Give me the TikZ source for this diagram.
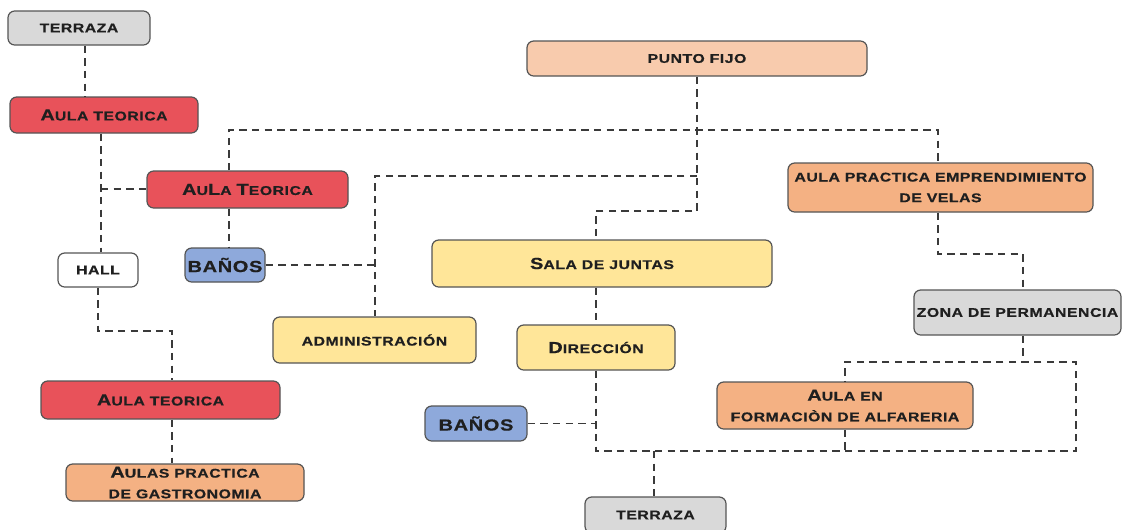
\documentclass[tikz,border=0pt]{standalone}
\usepackage{fontspec}
\newfontfamily\lbl[FakeStretch=1.25,LetterSpace=4,FakeBold=0.6]{Liberation Sans}
\definecolor{cred}{HTML}{E8525A}
\definecolor{cgray}{HTML}{D9D9D9}
\definecolor{cpeach}{HTML}{F8CBAD}
\definecolor{corange}{HTML}{F4B183}
\definecolor{cyellow}{HTML}{FFE699}
\definecolor{cblue}{HTML}{8EA9DB}
\definecolor{cborder}{HTML}{555555}
\definecolor{cline}{HTML}{3A3A3A}
\newcommand{\bg}[1]{{\fontsize{12}{13}\selectfont #1}}
\tikzset{
  box/.style={draw=cborder, line width=0.9pt, rounded corners=5pt, inner sep=0pt, align=center,
    font=\lbl\bfseries\fontsize{9.5}{15.5}\selectfont, text=black!88},
  sz/.style 2 args={minimum width=#1*0.75pt, minimum height=#2*0.75pt},
  conn/.style={draw=cline, line width=1pt, dash pattern=on 5.5pt off 4pt}
}
\begin{document}
\begin{tikzpicture}[x=0.75pt, y=-0.75pt]
\useasboundingbox (0,0) rectangle (1122,529);
\clip (0,0) rectangle (1122,529);
% nodes
\node[box, fill=cgray, sz={142}{34}] (t1) at (79,28) {TERRAZA};
\node[box, fill=cred, sz={188}{36}] (a1) at (104,115) {\bg{A}ULA TEORICA};
\node[box, fill=cred, sz={201}{37}] (a2) at (247.5,189.5) {\bg{A}U\bg{L}A \bg{T}EORICA};
\node[box, fill=white, sz={80}{34}] (hall) at (98,270) {HALL};
\node[box, fill=cblue, sz={80}{34}] (b1) at (225,265) {\bg{BAÑOS}};
\node[box, fill=cyellow, sz={203}{46}] (adm) at (374.5,340) {ADMINISTRACIÓN};
\node[box, fill=cpeach, sz={340}{35}] (pf) at (697,58.5) {PUNTO FIJO};
\node[box, fill=cyellow, sz={340}{47}] (sj) at (602,263.5) {\bg{S}ALA DE JUNTAS};
\node[box, fill=cyellow, sz={158}{45}] (dir) at (596,347.5) {\bg{D}IRECCIÓN};
\node[box, fill=cblue, sz={102}{35}] (b2) at (476,423.5) {\bg{BAÑOS}};
\node[box, fill=corange, sz={305}{49}] (vel) at (940.5,187.5) {AULA PRACTICA EMPRENDIMIENTO\\DE VELAS};
\node[box, fill=cgray, sz={207}{45}] (zona) at (1017.5,312.5) {ZONA DE PERMANENCIA};
\node[box, fill=corange, sz={256}{47}] (alf) at (845,405.5) {\bg{A}ULA EN\\FORMACIÒN DE ALFARERIA};
\node[box, fill=cred, sz={239}{38}] (a3) at (160.5,400) {\bg{A}ULA TEORICA};
\node[box, fill=corange, sz={238}{37}] (gas) at (185,482.5) {\bg{A}ULAS PRACTICA\\DE GASTRONOMIA};
\node[box, fill=cgray, sz={141}{36}] (t2) at (655.5,515) {TERRAZA};
% helper coordinates
\coordinate (xA) at (85,0);
\coordinate (xB) at (101,189);
\coordinate (xC) at (229,130);
\coordinate (xV) at (938,130);
\coordinate (xP) at (697,211);
\coordinate (xS) at (596,211);
\coordinate (xQ) at (697,176);
\coordinate (xR) at (375,176);
\coordinate (xH) at (98,331);
\coordinate (xK) at (172,331);
\coordinate (xD) at (596,451);
\coordinate (xE) at (1076,451);
\coordinate (xF) at (1076,362);
\coordinate (xG) at (845,362);
\coordinate (xZ) at (1023,362);
\coordinate (xT) at (654,451);
\coordinate (xW) at (938,254);
\coordinate (xY) at (1023,254);
% connectors
\draw[conn] (t1.south -| xA) -- (a1.north -| xA);
\draw[conn] (a1.south -| xB) -- (hall.north -| xB);
\draw[conn] (xB) -- (a2.west |- xB);
\draw[conn] (a2.north -| xC) -- (xC) -- (xV) -- (vel.north -| xV);
\draw[conn] (a2.south -| xC) -- (b1.north -| xC);
\draw[conn] (pf.south -| xP) -- (xP) -- (xS) -- (sj.north -| xS);
\draw[conn] (xQ) -- (xR) -- (adm.north -| xR);
\draw[conn] (b1.east) -- (b1.east -| xR);
\draw[conn] (hall.south -| xH) -- (xH) -- (xK) -- (a3.north -| xK);
\draw[conn] (a3.south -| xK) -- (gas.north -| xK);
\draw[conn] (sj.south -| dir.north) -- (dir.north);
\draw[conn] (dir.south) -- (xD) -- (xE) -- (xF) -- (xG) -- (alf.north -| xG);
\draw[conn] (zona.south -| xZ) -- (xZ);
\draw[conn] (alf.south -| xG) -- (xG |- xD);
\draw[conn] (b2.east) -- (b2.east -| xD);
\draw[conn] (xT) -- (t2.north -| xT);
\draw[conn] (vel.south -| xW) -- (xW) -- (xY) -- (zona.north -| xY);
\end{tikzpicture}
\end{document}
